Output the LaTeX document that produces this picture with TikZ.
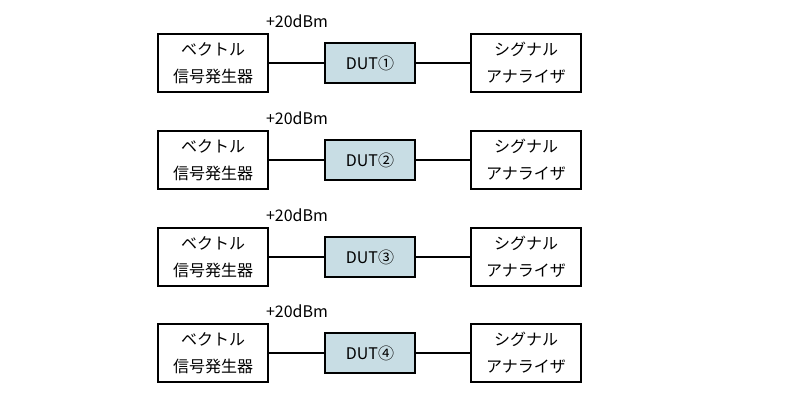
\documentclass[tikz,border=0pt]{standalone}
\usepackage{fontspec}
\setmainfont{Noto Sans CJK JP}
\definecolor{dutfill}{RGB}{200,221,228}
\begin{document}
\begin{tikzpicture}[x=1pt,y=-1pt,
  every node/.style={font=\fontsize{16}{27}\selectfont, inner sep=0pt},
  bigbox/.style={draw=black, line width=1.7pt, minimum width=110pt, minimum height=58pt, align=center},
  dutbox/.style={draw=black, line width=1.7pt, fill=dutfill, minimum width=90pt, minimum height=40pt},
  wire/.style={line width=1.7pt}]
\useasboundingbox (0,0) rectangle (800,400);
\foreach \i/\d/\yc in {0/①/63,1/②/160,2/③/257,3/④/353}{
  \node[bigbox] (vsg\i) at (213,\yc) {ベクトル\\信号発生器};
  \node[dutbox] (dut\i) at (370,\yc) {DUT\d};
  \node[bigbox] (sa\i) at (526,\yc) {シグナル\\アナライザ};
  \draw[wire] (vsg\i) -- (dut\i);
  \draw[wire] (dut\i) -- (sa\i);
  \node (lbl\i) at (297,\yc-42) {+20dBm};
}
\end{tikzpicture}
\end{document}
